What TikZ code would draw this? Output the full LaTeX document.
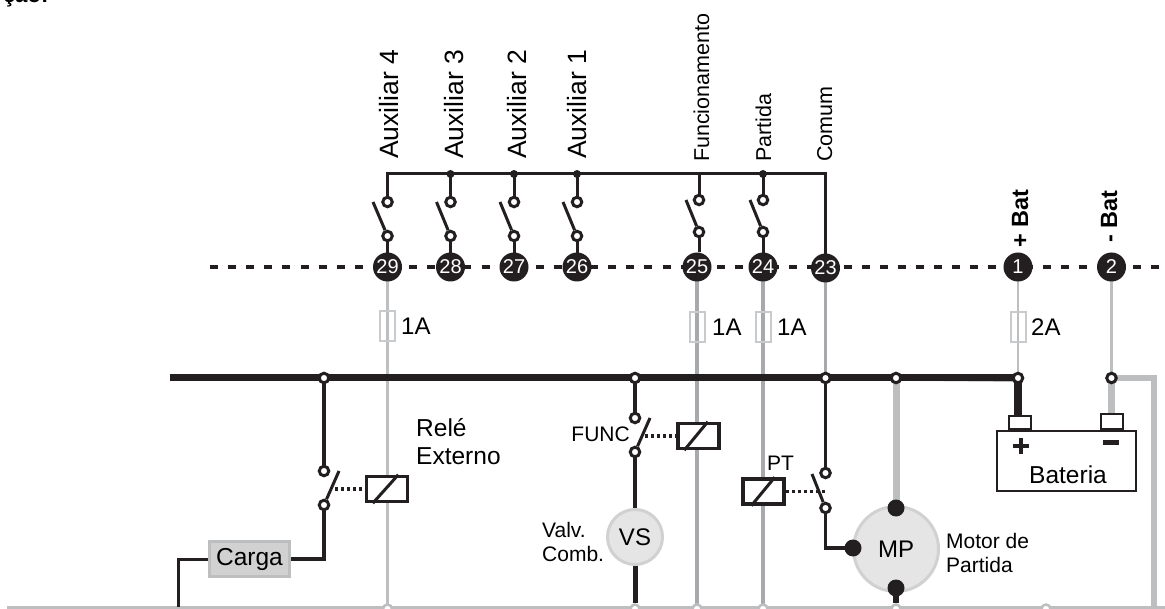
\documentclass[tikz,border=0pt]{standalone}
\usepackage{fontspec}
\setmainfont{Liberation Sans}
\usetikzlibrary{backgrounds}
\definecolor{ink}{HTML}{231F20}
\definecolor{wirelight}{HTML}{BCBEC0}
\definecolor{wiredark}{HTML}{A7A9AC}
\definecolor{fuseline}{HTML}{C8CACC}
\tikzstyle{terminal} = [circle, fill=ink, text=white, inner sep=0pt, minimum size=29pt, font=\fontsize{20}{24}\selectfont]
\tikzstyle{contact} = [circle, draw=ink, fill=white, line width=3pt, inner sep=0pt, minimum size=9.5pt]
\tikzstyle{endjoin} = [circle, draw=wirelight, fill=white, line width=2.5pt, inner sep=0pt, minimum size=9pt]
\tikzstyle{busdot} = [circle, fill=ink, inner sep=0pt, minimum size=8pt]
\tikzstyle{motordot} = [circle, fill=ink, inner sep=0pt, minimum size=17pt]
\tikzstyle{fuse} = [rectangle, draw=fuseline, line width=2pt, inner sep=0pt, minimum width=15pt, minimum height=30pt]
\tikzstyle{relay} = [rectangle, draw=ink, fill=white, line width=3.5pt, inner sep=0pt, minimum width=41pt, minimum height=25pt]
\tikzstyle{load} = [circle, draw=black!18, fill=black!10, line width=3pt, inner sep=0pt, font=\fontsize{24}{28}\selectfont]
\tikzstyle{tag} = [inner sep=0pt, align=left, font=\fontsize{21}{24}\selectfont]
\tikzstyle{rating} = [inner sep=0pt, anchor=west, font=\fontsize{24}{26}\selectfont]
\tikzstyle{upaux} = [inner sep=0pt, anchor=base west, rotate=90, font=\fontsize{26.5}{30}\selectfont]
\tikzstyle{upsig} = [inner sep=0pt, anchor=base west, rotate=90, font=\fontsize{21.5}{24}\selectfont]
\tikzstyle{upbat} = [inner sep=0pt, anchor=base west, rotate=90, font=\bfseries\fontsize{23.5}{26}\selectfont]
\tikzstyle{line} = [draw=ink, line width=3.5pt]
\tikzstyle{arm} = [draw=ink, line width=3pt]
\tikzstyle{link} = [draw=ink, line width=3.5pt, dash pattern=on 3pt off 3pt]

\begin{document}
\begin{tikzpicture}[x=1pt, y=-1pt]
    \useasboundingbox (0,0) rectangle (1165,609);
    % Place nodes
    \node [terminal] (t29) at (387.5,267) {29};
    \node [terminal] (t28) at (450.5,267) {28};
    \node [terminal] (t27) at (514,267) {27};
    \node [terminal] (t26) at (577,267) {26};
    \node [terminal] (t25) at (697,267) {25};
    \node [terminal] (t24) at (763,267) {24};
    \node [terminal] (t23) at (825.5,268) {23};
    \node [terminal] (t1) at (1018,267) {1};
    \node [terminal] (t2) at (1111.5,267) {2};
    \node [upaux] (aux4) at (398,159) {Auxiliar 4};
    \node [upaux] (aux3) at (463,159) {Auxiliar 3};
    \node [upaux] (aux2) at (526,159) {Auxiliar 2};
    \node [upaux] (aux1) at (586,159) {Auxiliar 1};
    \node [upsig] (func) at (709,162) {Funcionamento};
    \node [upsig] (part) at (771,162) {Partida};
    \node [upsig] (comum) at (832,162) {Comum};
    \node [upbat] (batp) at (1028,248) {+ Bat};
    \node [upbat] (batn) at (1117,243) {- Bat};
    \node [busdot] (d28) at (450.5,174) {};
    \node [busdot] (d27) at (514,174) {};
    \node [busdot] (d26) at (577,174) {};
    \node [busdot] (d24) at (763,174) {};
    \node [contact] (c29a) at (387.5,202) {};
    \node [contact] (c29b) at (387.5,236) {};
    \node [contact] (c28a) at (450.5,202) {};
    \node [contact] (c28b) at (450.5,236) {};
    \node [contact] (c27a) at (514,202) {};
    \node [contact] (c27b) at (514,236) {};
    \node [contact] (c26a) at (577,202) {};
    \node [contact] (c26b) at (577,236) {};
    \node [contact] (c25a) at (699,200) {};
    \node [contact] (c25b) at (699,232) {};
    \node [contact] (c24a) at (763,200) {};
    \node [contact] (c24b) at (763,232) {};
    \node [fuse] (f29) at (387.5,326.5) {};
    \node [fuse] (f25) at (697.5,327) {};
    \node [fuse] (f24) at (763.5,327) {};
    \node [fuse] (f1) at (1018.5,327) {};
    \node [rating] (r29) at (401,326) {1A};
    \node [rating] (r25) at (712,327) {1A};
    \node [rating] (r24) at (777,327) {1A};
    \node [rating] (r1) at (1031,327) {2A};
    \node [contact] (j1) at (324,378) {};
    \node [contact] (j2) at (635,378) {};
    \node [contact] (j3) at (825.5,378) {};
    \node [contact] (j4) at (896,378) {};
    \node [contact] (j5) at (1018,378) {};
    \node [contact] (j6) at (1111.5,378) {};
    \node [contact] (k1a) at (324,471) {};
    \node [contact] (k1b) at (324,505) {};
    \node [relay] (rel1) at (387,489) {};
    \node [tag, anchor=west, font=\fontsize{24.5}{28}\selectfont] (relname) at (416,442) {Relé\\Externo};
    \node [rectangle, draw=wirelight, fill=black!18, line width=3pt, inner sep=0pt, minimum width=80pt, minimum height=35pt, font=\fontsize{24.5}{28}\selectfont] (carga) at (249.5,559) {Carga};
    \coordinate (w1) at (178,559);
    \coordinate (w2) at (324,559);
    \coordinate (w3) at (178,607);
    \node [contact] (k2a) at (635,418) {};
    \node [contact] (k2b) at (635,452) {};
    \node [relay] (rel2) at (698.5,436) {};
    \node [tag, anchor=east] (funcname) at (630,434) {FUNC};
    \node [load, minimum size=55pt] (vs) at (635,537) {VS};
    \node [tag, anchor=west] (valv) at (542,542) {Valv.\\Comb.};
    \node [relay] (rel3) at (763.5,491.5) {};
    \node [tag, anchor=base west] (pt) at (767,471) {PT};
    \node [contact] (k3a) at (825.5,473) {};
    \node [contact] (k3b) at (825.5,508) {};
    \node [load, minimum size=85pt] (mp) at (896,549) {MP};
    \node [motordot] (mtop) at (896,508) {};
    \node [motordot] (mleft) at (853,548) {};
    \node [motordot] (mbot) at (896,588) {};
    \node [tag, anchor=west] (mpname) at (946,553) {Motor de\\Partida};
    \node [rectangle, draw=ink, fill=white, line width=2pt, inner sep=0pt, minimum width=139pt, minimum height=60pt] (bat) at (1066.5,461) {};
    \node [rectangle, draw=ink, fill=white, line width=2pt, inner sep=0pt, minimum width=22pt, minimum height=13pt] (posterm) at (1020,423) {};
    \node [rectangle, draw=ink, fill=white, line width=2pt, inner sep=0pt, minimum width=22pt, minimum height=15pt] (negterm) at (1111.5,422) {};
    \node [inner sep=0pt, font=\fontsize{24.5}{28}\selectfont] (batname) at (1068,475) {Bateria};
    \coordinate (p1) at (1013,446);
    \coordinate (p2) at (1029,446);
    \coordinate (p3) at (1021,438);
    \coordinate (p4) at (1021,454);
    \coordinate (m1) at (1103,443);
    \coordinate (m2) at (1119,443);
    \node [endjoin] (e1) at (387.5,609) {};
    \node [endjoin] (e2) at (635,609) {};
    \node [endjoin] (e3) at (697,609) {};
    \node [endjoin] (e4) at (763,609) {};
    \node [endjoin] (e5) at (896,609) {};
    \node [endjoin] (e6) at (1046,609) {};
    \coordinate (dashl) at (210,267);
    \coordinate (dashr) at (1165,267);
    \coordinate (busl) at (170,378);
    \coordinate (busr) at (1154,378);
    \coordinate (botl) at (7,607);
    \coordinate (botr) at (1165,607);
    \coordinate (corner29) at (387.5,174);
    \coordinate (corner23) at (825.5,174);
    \coordinate (tip29) at (373,202);
    \coordinate (tip28) at (436.5,202);
    \coordinate (tip27) at (500,202);
    \coordinate (tip26) at (563,202);
    \coordinate (tip25) at (686,200);
    \coordinate (tip24) at (750,200);
    \coordinate (tipk1) at (339,471);
    \coordinate (tipk2) at (650,418);
    \coordinate (tipk3) at (812,474);
    \node [inner sep=0pt, anchor=base west, font=\bfseries\fontsize{22}{26}\selectfont] (cut) at (3,3) {ção:};
    % Draw edges
    \begin{pgfonlayer}{background}
    \draw [ink, line width=4pt, dash pattern=on 8pt off 10.1pt] (dashl) -- (dashr);
    \draw [wirelight, line width=3pt] (botl) -- (botr);
    \draw [wirelight, line width=3pt] (t29.center) -- (e1.center);
    \draw [wiredark, line width=3.3pt] (t25.center) -- (e3.center);
    \draw [wiredark, line width=3.3pt] (t24.center) -- (e4.center);
    \draw [wiredark, line width=3.3pt] (t23.center) -- (j3.center);
    \draw [wirelight, line width=2.5pt] (t1.center) -- (j5.center);
    \draw [wirelight, line width=3pt] (t2.center) -- (j6.center);
    \draw [wirelight, line width=7pt] (j4.center) -- (mtop.center);
    \draw [wirelight, line width=7pt] (j6.center) -- (negterm.north);
    \draw [wirelight, line width=6.5pt, line join=miter] (j6.center) -- (busr) -- (busr |- botr);
    \draw [wirelight, line width=1pt] (j1.center) ++(0,-3.5) -- ([yshift=-3.5pt]j5.center);
    \draw [ink, line width=7pt] (busl) -- (j5.center);
    \draw [ink, line width=7.5pt] (j5.center) -- (posterm.north -| j5);
    \draw [ink, line width=3pt] (c29b.center) -- (t29.center);
    \draw [ink, line width=3pt, line join=miter] (c29a.center) -- (corner29) -- (corner23) -- (t23.center);
    \draw [ink, line width=3pt] (d28.center) -- (c28a.center);
    \draw [ink, line width=3pt] (d27.center) -- (c27a.center);
    \draw [ink, line width=3pt] (d26.center) -- (c26a.center);
    \draw [ink, line width=3pt] (c25a.center |- corner29) -- (c25a.center);
    \draw [ink, line width=3pt] (d24.center) -- (c24a.center);
    \draw [ink, line width=3pt] (c28b.center) -- (t28.center);
    \draw [ink, line width=3pt] (c27b.center) -- (t27.center);
    \draw [ink, line width=3pt] (c26b.center) -- (t26.center);
    \draw [ink, line width=3pt] (c25b.center) -- (t25.north -| c25b);
    \draw [ink, line width=3pt] (c24b.center) -- (t24.center);
    \path [line] (j1.center) -- (k1a.center);
    \path [line] (k1b.center) -- ([yshift=2pt]w2);
    \path [line, line width=4.7pt] ([xshift=1.7pt]w2) -- (carga.east);
    \draw [ink, line width=3pt, line join=miter] (carga.west) -- (w1) -- (w3);
    \path [line, line width=4.5pt] (j2.center) -- (k2a.center);
    \path [line, line width=4.5pt] (k2b.center) -- (vs.center);
    \path [line, line width=5pt] (vs.center) -- (e2.north);
    \path [line] (j3.center) -- (k3a.center);
    \path [line, line join=miter] (k3b.center) -- (k3b |- mleft) -- (mleft.center);
    \path [line, line width=6pt] (mbot.center) -- (e5.north);
    \end{pgfonlayer}
    \path [arm] (c29b) -- (tip29);
    \path [arm] (c28b) -- (tip28);
    \path [arm] (c27b) -- (tip27);
    \path [arm] (c26b) -- (tip26);
    \path [arm] (c25b) -- (tip25);
    \path [arm] (c24b) -- (tip24);
    \path [arm] (k1b) -- (tipk1);
    \path [arm] (k2b) -- (tipk2);
    \path [arm] (k3b) -- (tipk3);
    \path [link] (rel1.west -| tipk1) ++(-4,0) -- (rel1.west);
    \path [link] (rel2.west -| tipk2) ++(-5,0) -- (rel2.west);
    \path [link] (rel3.east) -- (k3a |- rel3.east);
    \path [arm] ([xshift=8pt]rel1.south west) -- ([xshift=-11pt]rel1.north east);
    \path [arm] ([xshift=8pt]rel2.south west) -- ([xshift=-13pt]rel2.north east);
    \path [arm] ([xshift=10pt]rel3.south west) -- ([xshift=-11pt]rel3.north east);
    \path [line, line width=4pt] (p1) -- (p2);
    \path [line, line width=4pt] (p3) -- (p4);
    \path [line, line width=5pt] (m1) -- (m2);
\end{tikzpicture}
\end{document}
